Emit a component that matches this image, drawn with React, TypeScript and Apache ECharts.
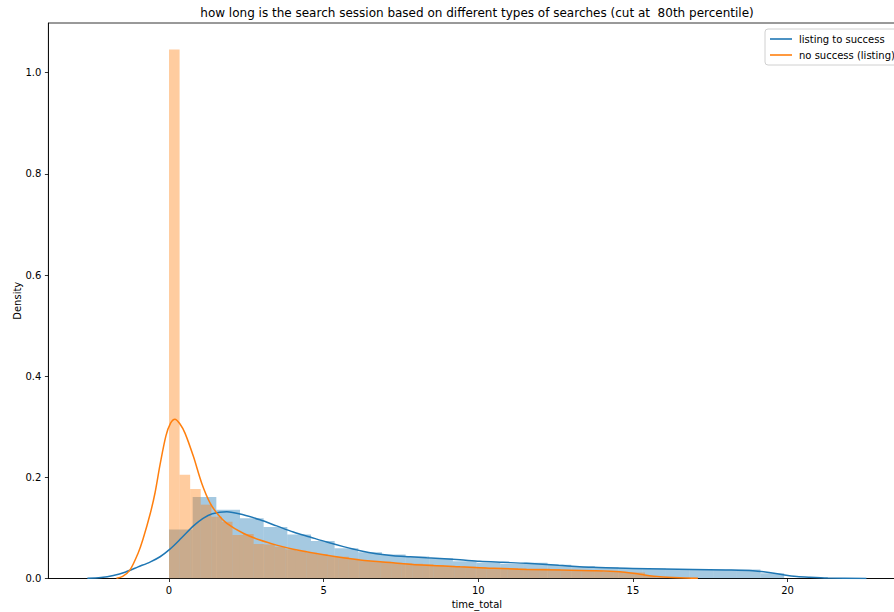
import React, { useEffect, useRef } from "react";
import * as echarts from "echarts";

// ---- data ----
const TITLE = "how long is the search session based on different types of searches (cut at  80th percentile)";
const SERIES_NAMES = ["listing to success", "no success (listing)"];
const X_TICKS = [0, 5, 10, 15, 20];
const Y_TICKS = [0, 0.2, 0.4, 0.6, 0.8, 1.0];

// histogram of "listing to success": bins start at 0, width 0.765
const BLUE_BIN_START = 0;
const BLUE_BIN_WIDTH = 0.765;
const blueBins = [
  0.097, 0.161, 0.136, 0.119, 0.102, 0.087, 0.074, 0.06, 0.052, 0.0475,
  0.0435, 0.04, 0.034, 0.031, 0.029, 0.031, 0.027, 0.024, 0.022, 0.021,
  0.02, 0.019, 0.019, 0.018, 0.018, 0.0103,
];

// histogram of "no success (listing)": bins start at 0, width 0.342
const ORANGE_BIN_START = 0;
const ORANGE_BIN_WIDTH = 0.342;
const orangeBins = [
  1.046, 0.205, 0.177, 0.146, 0.122, 0.112, 0.086, 0.088, 0.068, 0.067,
  0.063, 0.058, 0.055, 0.051, 0.048, 0.044, 0.043, 0.039, 0.036, 0.034,
  0.033, 0.031, 0.03, 0.029, 0.028, 0.026, 0.025, 0.024, 0.023, 0.022,
  0.021, 0.021, 0.021, 0.02, 0.02, 0.02, 0.019, 0.016, 0.016, 0.015,
  0.015, 0.013, 0.013, 0.012, 0.012, 0.005, 0.002, 0.002, 0.001, 0.002,
];

// KDE curves [x, density]
const blueKde = [
  [-2.64, 0.0005], [-2.2, 0.002], [-1.8, 0.006], [-1.4, 0.013], [-1.0, 0.023],
  [-0.6, 0.033], [-0.29, 0.043], [0.03, 0.058], [0.4, 0.08], [0.79, 0.104],
  [1.1, 0.119], [1.4, 0.128], [1.87, 0.132], [2.4, 0.126], [2.94, 0.116],
  [3.48, 0.104], [4.02, 0.092], [4.56, 0.082], [5.1, 0.072], [5.64, 0.063],
  [6.18, 0.055], [6.7, 0.049], [7.25, 0.045], [7.8, 0.043], [8.33, 0.041],
  [8.9, 0.039], [9.41, 0.037], [10.05, 0.034], [10.8, 0.032], [11.56, 0.03],
  [12.6, 0.026], [13.71, 0.022], [15.0, 0.02], [16.0, 0.019], [16.94, 0.018],
  [18.0, 0.017], [18.88, 0.0155], [19.4, 0.012], [19.9, 0.007], [20.3, 0.004],
  [20.7, 0.0025], [21.3, 0.001], [22.55, 0.0002],
];
const orangeKde = [
  [-1.7, 0.0003], [-1.5, 0.004], [-1.26, 0.017], [-1.0, 0.05], [-0.84, 0.078],
  [-0.6, 0.13], [-0.45, 0.17], [-0.29, 0.225], [-0.1, 0.282], [0.05, 0.307],
  [0.19, 0.315], [0.35, 0.306], [0.52, 0.287], [0.79, 0.241], [1.06, 0.188],
  [1.33, 0.149], [1.59, 0.126], [1.87, 0.109], [2.4, 0.0895], [2.94, 0.076],
  [3.48, 0.066], [4.02, 0.058], [5.1, 0.046], [6.18, 0.0366], [7.25, 0.031],
  [8.33, 0.026], [9.41, 0.023], [10.05, 0.0215], [11.56, 0.018], [13.71, 0.0155],
  [14.58, 0.0135], [15.23, 0.0083], [15.87, 0.0036], [16.5, 0.0014], [17.1, 0.0004],
];

const X_MIN = -3.9;
const X_MAX = 23.81;
const Y_MAX = 1.0983;

const BLUE = "#1f77b4";
const ORANGE = "#ff7f0e";
const FONT = "DejaVu Sans";

function binsToData(start: number, width: number, heights: number[]) {
  return heights.map((h, i) => [start + i * width, start + (i + 1) * width, h]);
}

function histSeries(name: string, data: number[][], fill: string) {
  return {
    type: "custom",
    name,
    clip: true,
    silent: true,
    encode: { x: [0, 1], y: 2 },
    data,
    renderItem: (params: any, api: any) => {
      const x0 = api.value(0);
      const x1 = api.value(1);
      const h = api.value(2);
      const p0 = api.coord([x0, h]);
      const p1 = api.coord([x1, 0]);
      return {
        type: "rect",
        shape: { x: p0[0], y: p0[1], width: p1[0] - p0[0], height: p1[1] - p0[1] },
        style: { fill, stroke: "none" },
      };
    },
  };
}

export default function App() {
  const ref = useRef<HTMLDivElement>(null);
  useEffect(() => {
    if (!ref.current) return;
    const chart = echarts.init(ref.current, undefined, { renderer: "svg" });
    const axisCommon = {
      axisLine: { show: true, onZero: false, lineStyle: { color: "#000", width: 0.8 } },
      axisTick: { show: true, length: 3.5, lineStyle: { color: "#000", width: 0.8 } },
      splitLine: { show: false },
      nameMoveOverlap: false,
      nameTextStyle: { fontFamily: FONT, fontSize: 10, color: "#000" },
    };
    chart.setOption({
      animation: false,
      backgroundColor: "#fff",
      textStyle: { fontFamily: FONT },
      grid: {
        left: 48.4,
        right: 4.6,
        top: 23,
        bottom: 33.5,
        containLabel: false,
        outerBoundsMode: "none",
        show: true,
        borderColor: "#000",
        borderWidth: 0.8,
        backgroundColor: "transparent",
      },
      graphic: [
        {
          type: "text",
          x: 477,
          y: 13,
          style: {
            text: TITLE,
            textAlign: "center",
            textVerticalAlign: "middle",
            fontFamily: FONT,
            fontSize: 12,
            fill: "#000",
          },
        },
      ],
      legend: {
        data: SERIES_NAMES,
        orient: "vertical",
        left: 765,
        top: 29,
        icon: "rect",
        itemWidth: 22,
        itemHeight: 1.6,
        itemGap: 6,
        backgroundColor: "#fff",
        borderColor: "#d0d0d0",
        borderWidth: 1,
        borderRadius: 3,
        padding: [5, 8, 5, 5],
        textStyle: { fontFamily: FONT, fontSize: 10, color: "#000", padding: [0, 0, 0, 2] },
      },
      xAxis: {
        type: "value",
        min: X_MIN,
        max: X_MAX,
        name: "time_total",
        nameLocation: "middle",
        nameGap: 21,
        ...axisCommon,
        axisTick: { ...axisCommon.axisTick, customValues: X_TICKS },
        axisLabel: {
          customValues: X_TICKS,
          margin: 7,
          fontFamily: FONT,
          fontSize: 10,
          color: "#000",
          formatter: (v: number) => String(v),
        },
      },
      yAxis: {
        type: "value",
        min: 0,
        max: Y_MAX,
        name: "Density",
        nameLocation: "middle",
        nameGap: 26,
        nameRotate: 90,
        ...axisCommon,
        axisTick: { ...axisCommon.axisTick, customValues: Y_TICKS },
        axisLabel: {
          customValues: Y_TICKS,
          margin: 7,
          fontFamily: FONT,
          fontSize: 10,
          color: "#000",
          formatter: (v: number) => v.toFixed(1),
        },
      },
      series: [
        histSeries(
          "hist1",
          binsToData(BLUE_BIN_START, BLUE_BIN_WIDTH, blueBins),
          "rgba(31,119,180,0.4)"
        ),
        {
          type: "line",
          name: SERIES_NAMES[0],
          data: blueKde,
          smooth: 0.3,
          showSymbol: false,
          symbol: "none",
          color: BLUE,
          lineStyle: { color: BLUE, width: 1.5 },
          silent: true,
        },
        histSeries(
          "hist2",
          binsToData(ORANGE_BIN_START, ORANGE_BIN_WIDTH, orangeBins),
          "rgba(255,127,14,0.4)"
        ),
        {
          type: "line",
          name: SERIES_NAMES[1],
          data: orangeKde,
          smooth: 0.3,
          showSymbol: false,
          symbol: "none",
          color: ORANGE,
          lineStyle: { color: ORANGE, width: 1.5 },
          silent: true,
        },
      ],
    });
    return () => chart.dispose();
  }, []);
  return (
    <div
      style={{
        position: "absolute",
        left: 0,
        top: 0,
        width: 894,
        height: 612,
        overflow: "hidden",
        background: "#fff",
      }}
    >
      <div ref={ref} style={{ width: 910, height: 612 }} />
    </div>
  );
}
